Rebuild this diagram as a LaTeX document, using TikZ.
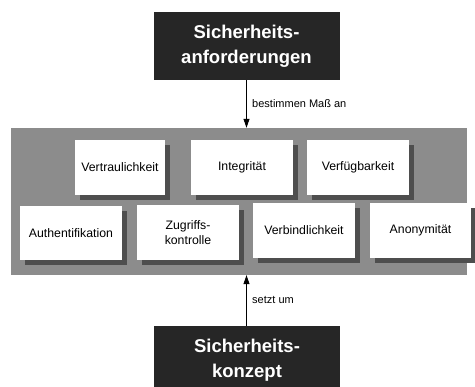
\documentclass[tikz,border=0pt]{standalone}
\usepackage{fontspec}
\setmainfont{Liberation Sans}
\usetikzlibrary{shadows, arrows.meta, positioning}

\definecolor{boxdark}{HTML}{262626}
\definecolor{panelgray}{HTML}{8C8C8C}
\definecolor{shadowgray}{HTML}{4E4E4E}

\begin{document}
\begin{tikzpicture}[
    x=1pt, y=-1pt,
    darkbox/.style={rectangle, fill=boxdark, text=white, align=center, minimum width=186pt, minimum height=68pt, font=\fontsize{18.5}{25}\selectfont\bfseries},
    goal/.style={rectangle, fill=white, align=center, minimum width=102pt, minimum height=55pt, font=\fontsize{12.3}{15.5}\selectfont,
        drop shadow={shadow xshift=5pt, shadow yshift=-5pt, fill=shadowgray, opacity=1}},
    arrow/.style={-{Triangle[length=9pt, width=6pt]}, line width=0.8pt},
    lbl/.style={right, font=\fontsize{11}{13}\selectfont}
]
\useasboundingbox (0,0) rectangle (475,387);
\clip (0,0) rectangle (475,387);
\fill[white] (0,0) rectangle (475,387);

\node[darkbox] (req) at (246.5,46) {Sicherheits-\\anforderungen};
\node[rectangle, fill=panelgray, minimum width=456pt, minimum height=147pt] (panel) at (239,201.5) {};
\node[darkbox] (concept) at (247,360) {Sicherheits-\\konzept};

% Schutzziele
\node[goal, minimum width=90pt] (conf) at (120,167.5) {Vertraulichkeit};
\node[goal] (integ) at (242,167.5) {Integrität};
\node[goal] (avail) at (358,167.5) {Verfügbarkeit};
\node[goal, minimum height=54pt] (auth) at (71,233) {Authentifikation};
\node[goal] (access) at (188,232.5) {Zugriffs-\\kontrolle};
\node[goal] (bind) at (304,230.5) {Verbindlichkeit};
\node[goal, minimum width=101pt] (anon) at (420.5,230.5) {Anonymität};

\draw[arrow] (req.south) -- (req.south |- panel.north) node[lbl, midway, xshift=2pt] {bestimmen Maß an};
\draw[arrow] (req.south |- concept.north) -- (req.south |- panel.south) node[lbl, midway, xshift=2pt] {setzt um};
\end{tikzpicture}
\end{document}
